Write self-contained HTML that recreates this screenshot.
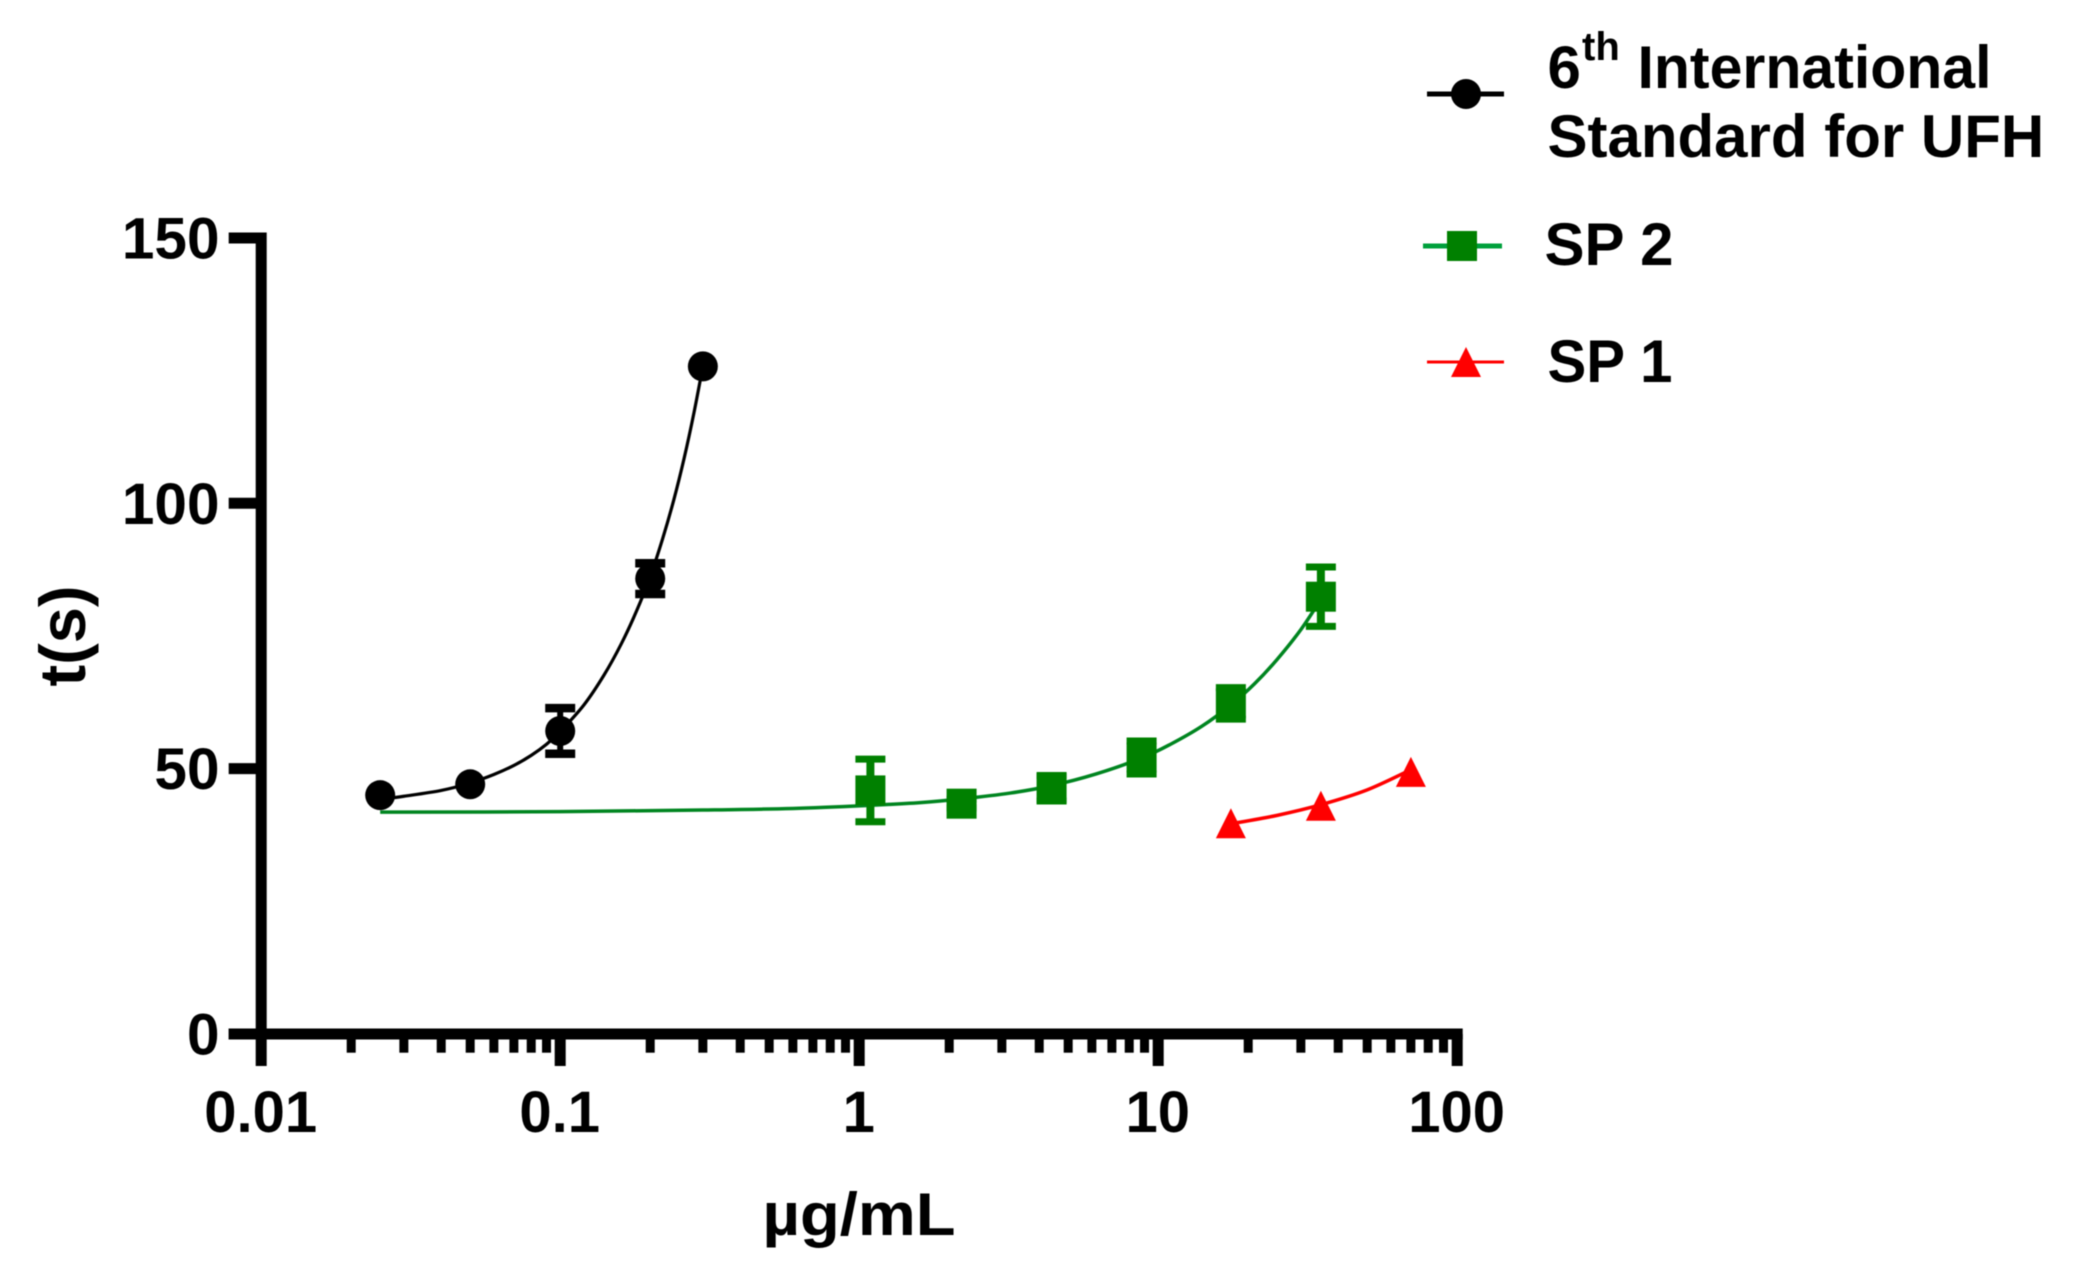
<!DOCTYPE html>
<html lang="en">
<head>
<meta charset="utf-8">
<title>Clotting time vs concentration</title>
<style>
html,body{margin:0;padding:0;background:#fff;width:2090px;height:1288px;overflow:hidden}
svg{display:block;filter:blur(0.5px)}
text{font-family:"Liberation Sans",sans-serif;font-weight:bold;fill:#000}
</style>
</head>
<body>
<svg id="chart" xmlns="http://www.w3.org/2000/svg" width="2090" height="1288" viewBox="0 0 2090 1288">
  <rect x="0" y="0" width="2090" height="1288" fill="#fff"/>
  <g id="axes"></g>
  <g id="series"></g>
  <text x="859" y="1235" font-size="60" text-anchor="middle" textLength="193" lengthAdjust="spacingAndGlyphs">µg/mL</text>
  <text transform="translate(85,636) rotate(-90)" font-size="65" text-anchor="middle">t(s)</text>
  <g>
    <g>
      <line x1="1427" x2="1504" y1="94" y2="94" stroke="#000" stroke-width="5"/>
      <circle cx="1466" cy="94" r="15" fill="#000"/>
      <text x="1547.5" y="88" font-size="60">6</text>
      <text x="1582" y="60" font-size="40">th</text>
      <text x="1637.5" y="88" font-size="60" textLength="354" lengthAdjust="spacingAndGlyphs">International</text>
      <text x="1547.5" y="157" font-size="60">Standard for UFH</text>
    </g>
    <g>
      <line x1="1423" x2="1502" y1="246" y2="246" stroke="#00a03c" stroke-width="5"/>
      <rect x="1447" y="231" width="30" height="30" fill="#008000"/>
      <text x="1544.5" y="265" font-size="60">SP 2</text>
    </g>
    <g>
      <line x1="1427" x2="1504" y1="362" y2="362" stroke="#ff0000" stroke-width="3"/>
      <polygon points="1466,347 1481,377 1451,377" fill="#ff0000"/>
      <text x="1547.5" y="382" font-size="60" textLength="125" lengthAdjust="spacingAndGlyphs">SP 1</text>
    </g>
  </g>
</svg>
<script>
// ---- tick labels ----
const xTickValues = [0.01, 0.1, 1, 10, 100];
const xTickLabels = ["0.01", "0.1", "1", "10", "100"];
const yTickValues = [0, 50, 100, 150];
const yTickLabels = ["0", "50", "100", "150"];
const minorMultipliers = [2, 3, 4, 5, 6, 7, 8, 9];

// ---- measured points ----
const ufhDose = [0.025, 0.05, 0.1, 0.2, 0.3];
const ufhTime = [45, 47.05, 57.1, 85.8, 125.8];
const ufhErr  = [0, 0, 4.3, 2.9, 0];

const sp2Dose = [1.09, 2.2, 4.4, 8.8, 17.5, 35];
const sp2Time = [45.9, 43.4, 46.3, 52.1, 62.3, 82.4];
const sp2Err  = [5.9, 0.8, 2.4, 3.1, 2.96, 5.6];

const sp1Dose = [17.5, 35, 70];
const sp1Time = [39.7, 43, 49.4];

// ---- fitted curves ----
const ufhCurveDose = [0.025, 0.03, 0.04, 0.05, 0.06, 0.07, 0.08, 0.09, 0.1, 0.12, 0.14, 0.16, 0.18, 0.2, 0.22, 0.24, 0.26, 0.28, 0.3];
const ufhCurveTime = [44.2, 44.8, 45.9, 47.3, 48.9, 50.6, 52.5, 54.6, 57, 62, 67.6, 73.5, 79.7, 86.2, 93.3, 100.7, 108.6, 117, 125.8];

const sp2CurveDose = [0.025, 0.1, 0.3, 0.6, 1.1, 1.6, 2.2, 3.2, 4.4, 6.2, 8.8, 11, 14, 17.5, 21, 25, 30, 35];
const sp2CurveTime = [41.8, 41.9, 42.2, 42.5, 43.1, 43.6, 44.3, 45.4, 46.8, 49, 52, 54.6, 58, 62, 66, 70.6, 76.2, 81.9];

const sp1CurveDose = [17.5, 25, 35, 50, 70];
const sp1CurveTime = [39.6, 41.2, 43.2, 46, 49.8];

// ---- axis functions ----
const NS = "http://www.w3.org/2000/svg";
const xLeft = 261.2, xDecade = 299, yZero = 1034, yPerUnit = 5.307;
function xScale(v) { return xLeft + (Math.log10(v) + 2) * xDecade; }
function yScale(v) { return yZero - v * yPerUnit; }

function make(tag, parent, attrs) {
  const el = document.createElementNS(NS, tag);
  for (const k in attrs) el.setAttribute(k, attrs[k]);
  parent.appendChild(el);
  return el;
}

const axes = document.getElementById("axes");
const seriesLayer = document.getElementById("series");

// axis lines
let yAxisLine = make("line", axes, {x1: xScale(0.01), x2: xScale(0.01), y1: yScale(150) - 5.5, y2: yZero, stroke: "#000", "stroke-width": 11});


let xAxisLine = make("line", axes, {x1: xScale(0.01) - 32.5, x2: xScale(100) + 5.5, y1: yZero, y2: yZero, stroke: "#000", "stroke-width": 11});



// y ticks
yTickValues.forEach(function (v, i) {
  const t = make("line", axes, {x1: xScale(0.01) - 32.5, x2: xScale(0.01), y1: yScale(v), y2: yScale(v), stroke: "#000", "stroke-width": 11});
  
  
  const l = make("text", axes, {x: 219.5, y: yScale(v) + 20.5, "font-size": 58.5, "text-anchor": "end"});
  l.textContent = yTickLabels[i];
  
  
});

// x ticks
xTickValues.forEach(function (v, i) {
  const t = make("line", axes, {x1: xScale(v), x2: xScale(v), y1: yZero, y2: 1066, stroke: "#000", "stroke-width": 11});
  
  
  const l = make("text", axes, {x: xScale(v) - 0.5, y: 1132, "font-size": 58, "text-anchor": "middle"});
  l.textContent = xTickLabels[i];
  
  
  if (i < xTickValues.length - 1) {
    minorMultipliers.forEach(function (m) {
      const mt = make("line", axes, {x1: xScale(v * m), x2: xScale(v * m), y1: yZero, y2: 1052.7, stroke: "#000", "stroke-width": 9});
      
      
    });
  }
});

// smooth path through curve samples (Catmull-Rom)
function curvePath(doses, times) {
  const p = doses.map(function (d, i) { return [xScale(d), yScale(times[i])]; });
  let d = "M" + p[0][0] + " " + p[0][1];
  for (let i = 0; i < p.length - 1; i++) {
    const a = p[Math.max(i - 1, 0)], b = p[i], c = p[i + 1], e = p[Math.min(i + 2, p.length - 1)];
    d += " C" + (b[0] + (c[0] - a[0]) / 6) + " " + (b[1] + (c[1] - a[1]) / 6) + " " +
         (c[0] - (e[0] - b[0]) / 6) + " " + (c[1] - (e[1] - b[1]) / 6) + " " + c[0] + " " + c[1];
  }
  return d;
}

function errorBar(group, dose, time, err, color, stem, capThick) {
  if (!err) return;
  const x = xScale(dose), hi = yScale(time + err), lo = yScale(time - err);
  const s = make("line", group, {x1: x, x2: x, y1: hi, y2: lo, stroke: color, "stroke-width": stem});
  
  
  [hi, lo].forEach(function (y) {
    const c = make("line", group, {x1: x - 15, x2: x + 15, y1: y, y2: y, stroke: color, "stroke-width": capThick});
    
    
  });
}

// SP 1
const sp1Group = make("g", seriesLayer, {});


const sp1Curve = make("path", sp1Group, {d: curvePath(sp1CurveDose, sp1CurveTime), fill: "none", stroke: "#ff0000", "stroke-width": 3.5});


sp1Dose.forEach(function (d, i) {
  const x = xScale(d), y = yScale(sp1Time[i]);
  const m = make("polygon", sp1Group, {points: x + "," + (y - 15) + " " + (x + 15) + "," + (y + 15) + " " + (x - 15) + "," + (y + 15), fill: "#ff0000"});
  
  
});

// SP 2
const sp2Group = make("g", seriesLayer, {});


const sp2Curve = make("path", sp2Group, {d: curvePath(sp2CurveDose, sp2CurveTime), fill: "none", stroke: "#008520", "stroke-width": 3.5});


sp2Dose.forEach(function (d, i) {
  errorBar(sp2Group, d, sp2Time[i], sp2Err[i], "#008000", 8, 7);
  const m = make("rect", sp2Group, {x: xScale(d) - 15, y: yScale(sp2Time[i]) - 15, width: 30, height: 30, fill: "#008000"});
  
  
});

// 6th International Standard for UFH
const ufhGroup = make("g", seriesLayer, {});


const ufhCurve = make("path", ufhGroup, {d: curvePath(ufhCurveDose, ufhCurveTime), fill: "none", stroke: "#000", "stroke-width": 3.2});


ufhDose.forEach(function (d, i) {
  errorBar(ufhGroup, d, ufhTime[i], ufhErr[i], "#000", 6, 8.5);
  const m = make("circle", ufhGroup, {cx: xScale(d), cy: yScale(ufhTime[i]), r: 15, fill: "#000"});
  
  
});
</script>
</body>
</html>
